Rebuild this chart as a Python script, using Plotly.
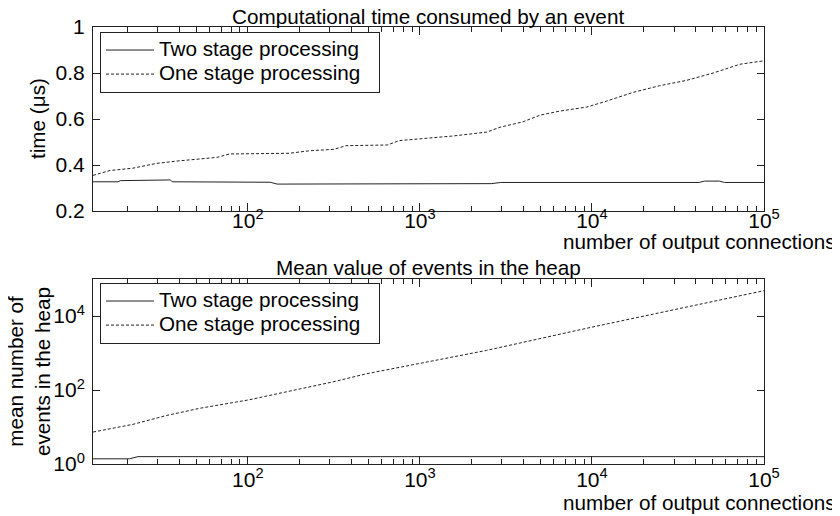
import plotly.graph_objects as go

# ---------------- data ----------------
# Top panel: computational time per event (us)
n_two_top = [12.6, 17.6, 18.2, 29.5, 31.6, 35.5, 36.3, 87, 135, 148, 1150, 2600, 2950, 42000, 45000, 55000, 59000, 100000]
t_two_top = [0.327, 0.327, 0.332, 0.332, 0.335, 0.335, 0.327, 0.327, 0.325, 0.317, 0.318, 0.319, 0.324, 0.324, 0.330, 0.330, 0.324, 0.324]

n_one_top = [12.6, 15.8, 21.4, 29.5, 38.5, 52.5, 66, 78.5, 112, 174, 229, 316, 372, 646, 759, 1000,
             1550, 2450, 2920, 3980, 5010, 6460, 9330, 12200, 17400, 24800, 35500, 50700, 72400, 100000]
t_one_top = [0.355, 0.376, 0.386, 0.407, 0.417, 0.426, 0.433, 0.448, 0.448, 0.451, 0.462, 0.468, 0.484, 0.487, 0.506, 0.513,
             0.526, 0.543, 0.564, 0.588, 0.617, 0.634, 0.652, 0.678, 0.716, 0.745, 0.768, 0.800, 0.838, 0.853]

# Bottom panel: mean number of events in the heap
n_two_bot = [12.6, 20.5, 23, 1000, 10000, 100000]
h_two_bot = [1.38, 1.38, 1.58, 1.58, 1.58, 1.58]

n_one_bot = [12.6, 21.5, 33.7, 52.5, 100, 200, 313, 490, 1000, 2440, 10000, 35500, 100000]
h_one_bot = [7.3, 11.8, 20.5, 32, 53.5, 108, 166, 275, 519, 1175, 5010, 17400, 48400]

series_names = ["Two stage processing", "One stage processing"]

x_tickvals = [1e2, 1e3, 1e4, 1e5]
x_ticktext = ["10<sup>2</sup>", "10<sup>3</sup>", "10<sup>4</sup>", "10<sup>5</sup>"]
y1_tickvals = [0.2, 0.4, 0.6, 0.8, 1.0]
y1_ticktext = ["0.2", "0.4", "0.6", "0.8", "1"]
y2_tickvals = [1, 1e2, 1e4]
y2_ticktext = ["10<sup>0</sup>", "10<sup>2</sup>", "10<sup>4</sup>"]

# ---------------- figure ----------------
W, H = 840, 516
OFF = 8  # page body margin in the viewer
FONT = "Liberation Sans, Arial, Helvetica, sans-serif"
INK = "#222222"
FS = 20.7


def fx(p):
    return (p - OFF) / W


def fy(p):
    return 1 - (p - OFF) / H


def leg_name(s):
    return '<span style="font-size:%.1fpx">%s</span>\u00a0\u00a0\u00a0' % (FS, s)


minor_x = []
for dec in [10, 100, 1000, 10000]:
    for k in range(2, 10):
        v = k * dec
        if v > 12.6:
            minor_x.append(v)

fig = go.Figure()
fig.add_trace(go.Scatter(x=n_two_top, y=t_two_top, mode="lines", name=leg_name(series_names[0]),
                         line=dict(color=INK, width=1), xaxis="x", yaxis="y", legend="legend"))
fig.add_trace(go.Scatter(x=n_one_top, y=t_one_top, mode="lines", name=leg_name(series_names[1]),
                         line=dict(color=INK, width=1, dash="3px,2px"), xaxis="x", yaxis="y", legend="legend"))
fig.add_trace(go.Scatter(x=n_two_bot, y=h_two_bot, mode="lines", name=leg_name(series_names[0]),
                         line=dict(color=INK, width=1), xaxis="x2", yaxis="y2", legend="legend2"))
fig.add_trace(go.Scatter(x=n_one_bot, y=h_one_bot, mode="lines", name=leg_name(series_names[1]),
                         line=dict(color=INK, width=1, dash="3px,2px"), xaxis="x2", yaxis="y2", legend="legend2"))

common_axis = dict(showline=True, linecolor=INK, linewidth=1, mirror="allticks", ticks="inside",
                   tickcolor=INK, showgrid=False, zeroline=False, automargin=False,
                   tickfont=dict(family=FONT, size=21, color="black"))

xaxis_common = dict(common_axis, type="log", range=[1.1, 5], tickmode="array", tickvals=x_tickvals,
                    ticktext=x_ticktext, ticklen=8,
                    minor=dict(tickmode="array", tickvals=minor_x, ticks="inside", ticklen=5, tickcolor=INK, showgrid=False),
                    domain=[fx(93), fx(764)])

legend_common = dict(xanchor="left", yanchor="top", bordercolor=INK, borderwidth=1, bgcolor="white",
                     itemwidth=48, font=dict(family=FONT, size=16.2, color="black"))

fig.update_layout(
    width=W, height=H, autosize=False,
    margin=dict(l=0, r=0, t=0, b=0, pad=0, autoexpand=False),
    paper_bgcolor="white", plot_bgcolor="white",
    font=dict(family=FONT, size=FS, color="black"),
    xaxis=dict(xaxis_common, anchor="y", ticklabelstandoff=-9),
    yaxis=dict(common_axis, range=[0.2, 1], tickmode="array", tickvals=y1_tickvals, ticktext=y1_ticktext,
               ticklen=7, ticklabelstandoff=3, domain=[fy(211), fy(27)], anchor="x"),
    xaxis2=dict(xaxis_common, anchor="y2", ticklabelstandoff=-3),
    yaxis2=dict(common_axis, type="log", range=[0, 5], tickmode="array", tickvals=y2_tickvals,
                ticktext=y2_ticktext, ticklen=7, ticklabelstandoff=3, domain=[fy(464), fy(279)], anchor="x2"),
    legend=dict(legend_common, x=fx(100), y=fy(32)),
    legend2=dict(legend_common, x=fx(100), y=fy(283)),
    showlegend=True,
)

ann = [
    dict(text="Computational time consumed by an event", x=fx(428), y=fy(16), xanchor="center", yanchor="middle"),
    dict(text="Mean value of events in the heap", x=fx(428), y=fy(267), xanchor="center", yanchor="middle"),
    dict(text="number of output connections", x=fx(838), y=fy(241), xanchor="right", yanchor="middle"),
    dict(text="number of output connections", x=fx(838), y=fy(502), xanchor="right", yanchor="middle"),
    dict(text="time (μs)", x=fx(38), y=fy(119), xanchor="center", yanchor="middle", textangle=-90),
    dict(text="mean number of<br>events in the heap", x=fx(29), y=fy(372), xanchor="center", yanchor="middle",
         textangle=-90),
]
for a in ann:
    a.update(xref="paper", yref="paper", showarrow=False, font=dict(family=FONT, size=FS, color="black"))
fig.update_layout(annotations=ann)

fig.write_html("out.html")
